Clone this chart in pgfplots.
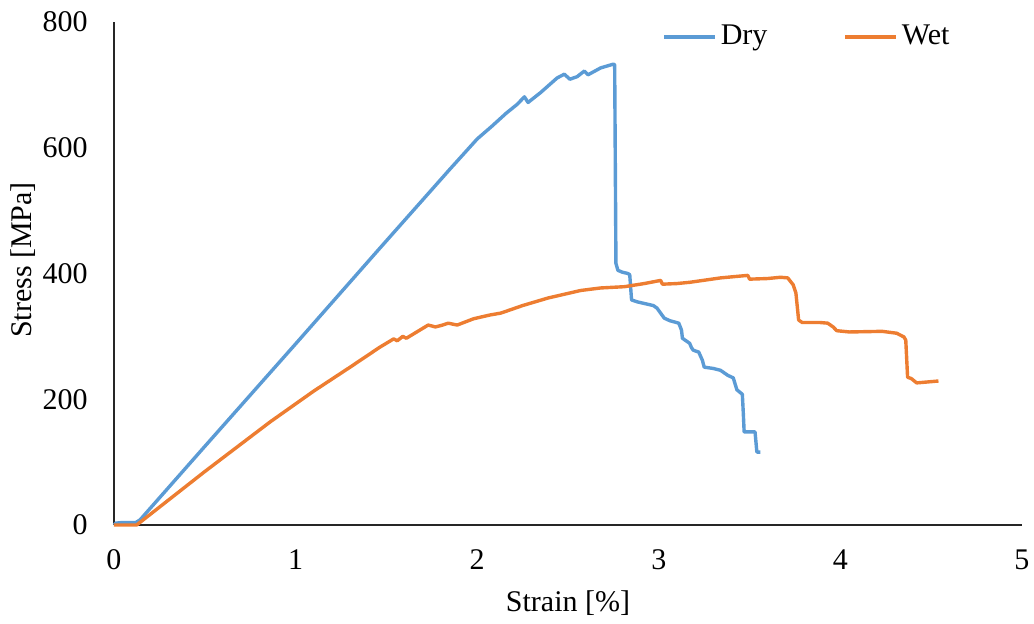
\documentclass[border=0pt]{standalone}
\usepackage{fontspec}
\setmainfont{Liberation Serif}
\usepackage{pgfplots}
\pgfplotsset{compat=1.18}
\definecolor{dryblue}{HTML}{5B9BD5}
\definecolor{wetorange}{HTML}{ED7D31}
\begin{document}
\fontsize{15}{18}\selectfont
\begin{tikzpicture}
\path[use as bounding box] (0,0) rectangle (517pt,312pt);
\begin{axis}[
  at={(57pt,49.5pt)}, anchor=south west,
  scale only axis, width=454pt, height=251.5pt,
  xmin=0, xmax=5, ymin=0, ymax=800,
  clip=false,
  axis x line=bottom, axis y line=left,
  axis line style={-, line width=0.9pt, black!85},
  xtick={0,1,2,3,4,5}, ytick={0,200,400,600,800},
  major tick length=0pt,
  /pgf/number format/assume math mode=true,
  tick label style={font=\fontsize{15}{18}\selectfont, inner sep=0pt},
  xticklabel style={anchor=north, yshift=-12pt},
  yticklabel style={anchor=east, xshift=-13pt},
  xlabel={Strain [\%]}, ylabel={Stress [MPa]},
  label style={font=\fontsize{15}{18}\selectfont},
  xlabel style={at={(axis description cs:0.5,0)}, anchor=center, yshift=-39pt},
  ylabel style={at={([xshift=-45.5pt]axis description cs:0,0.527)}, anchor=center},
  legend columns=2,
  legend style={draw=none, fill=none, at={(axis description cs:0.6035,0.970)}, anchor=west,
    font=\fontsize{15}{18}\selectfont, inner sep=0pt,
    /tikz/every even column/.append style={column sep=36pt},
    nodes={inner sep=2pt}},
  legend image code/.code={\draw[#1, line width=1.7pt] (0pt,0pt) -- (25.5pt,0pt);},
]
\addplot[dryblue, line width=1.7pt, line join=round] table {
0 0
0.01 3
0.05 4
0.12 4
0.143 8
0.5 125
1.0 288
1.454 437
1.85 566
2.0 614
2.08 634
2.16 655
2.22 669
2.26 681
2.28 672
2.35 688
2.44 711
2.48 717
2.51 709
2.55 713
2.59 722
2.61 716
2.68 727
2.75 733
2.757 732
2.764 416
2.775 405
2.80 402
2.83 400
2.84 398
2.85 358
2.88 355
2.91 353
2.97 349
2.99 345
3.03 329
3.06 325
3.11 321
3.125 310
3.13 297
3.17 289
3.18 282
3.19 278
3.22 275
3.24 262
3.25 251
3.30 249
3.34 246
3.38 238
3.41 234
3.43 215
3.46 208
3.465 180
3.47 148
3.53 148
3.54 116
3.56 116
};
\addlegendentry{Dry}
\addplot[wetorange, line width=1.7pt, line join=round] table {
0 0
0.125 0
0.5 85
0.86 164
1.1 213
1.3 251
1.465 283
1.54 296
1.56 293
1.59 300
1.61 297
1.73 318
1.77 315
1.81 318
1.84 321
1.89 318
1.98 328
2.07 334
2.13 337
2.25 349
2.39 361
2.57 373
2.68 377
2.81 379
2.92 384
3.01 389
3.02 383
3.10 384
3.17 386
3.34 393
3.49 397
3.50 391
3.60 392
3.67 394
3.71 393
3.74 382
3.755 369
3.77 326
3.79 322
3.89 322
3.93 321
3.96 315
3.98 309
4.05 307
4.23 308
4.31 305
4.35 299
4.36 294
4.37 235
4.39 233
4.42 226
4.54 229
};
\addlegendentry{Wet}
\end{axis}
\end{tikzpicture}
\end{document}
